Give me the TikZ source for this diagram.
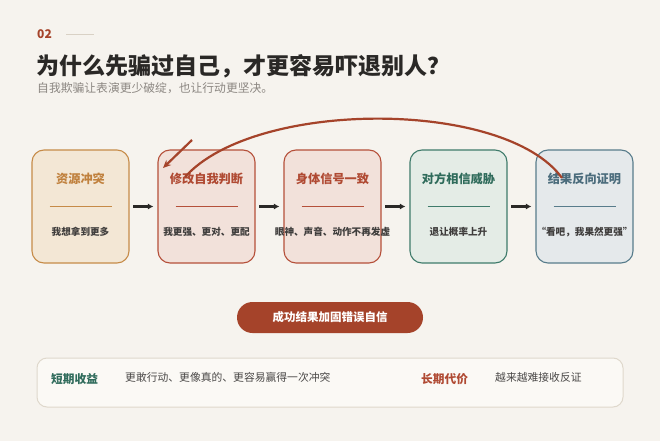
\documentclass[tikz,border=0pt]{standalone}
\usepackage{fontspec}
\setmainfont{Noto Sans CJK SC}
\usepackage{xcolor}
\usepackage{tikz}
\usetikzlibrary{arrows.meta}
\definecolor{paper}{HTML}{F6F3EE}
\definecolor{ink}{HTML}{2A2826}
\definecolor{mute}{HTML}{8C8782}
\definecolor{rust}{HTML}{A5432A}
\definecolor{rule}{HTML}{D9D1C5}
\definecolor{sAfill}{HTML}{F3E7D5}
\definecolor{sAline}{HTML}{C68B48}
\definecolor{sAtext}{HTML}{C0813E}
\definecolor{sBfill}{HTML}{F2E1DA}
\definecolor{sBline}{HTML}{B5503A}
\definecolor{sBtext}{HTML}{B04A33}
\definecolor{sCfill}{HTML}{E4ECE6}
\definecolor{sCline}{HTML}{3F7B6B}
\definecolor{sCtext}{HTML}{2F6B5B}
\definecolor{sDfill}{HTML}{E5E9EB}
\definecolor{sDline}{HTML}{587C8B}
\definecolor{sDtext}{HTML}{4B6C7C}
\definecolor{panelfill}{HTML}{FBF9F5}
\definecolor{panelline}{HTML}{DFD8CC}
\tikzstyle{every node}=[inner sep=0pt]
\tikzstyle{stage}=[line width=1.1pt, rounded corners=12pt, minimum width=97pt, minimum height=113pt]
\tikzstyle{stagehead}=[font=\fontsize{12.2}{14}\selectfont\bfseries]
\tikzstyle{stagesub}=[font=\fontsize{9.6}{12}\selectfont\bfseries, text=ink!90]
\tikzstyle{flow}=[-{Latex[length=5.5pt,width=6pt]}, line width=2.2pt, ink, shorten <=3.5pt, shorten >=4pt]
\tikzstyle{loopline}=[rust, line width=2.2pt]
\tikzstyle{note}=[anchor=west, font=\fontsize{10.8}{13}\selectfont, text=ink!85]
\tikzstyle{notehead}=[anchor=west, font=\fontsize{11.7}{14}\selectfont\bfseries]

\begin{document}
\begin{tikzpicture}[x=1pt,y=-1pt]
\fill[paper] (0,0) rectangle (660,441);
\useasboundingbox (0,0) rectangle (660,441);

% heading
\node[anchor=west, text=rust, font=\fontsize{12}{14}\selectfont\bfseries] (num) at (37,34.5) {02};
\draw[rule, line width=0.8pt] ([xshift=14pt]num.east) -- ++(28,0);
\node[anchor=west, text=ink, font=\fontsize{23}{26}\selectfont\bfseries] (title) at (36,66) {为什么先骗过自己，才更容易吓退别人？};
\node[anchor=west, text=mute, font=\fontsize{11.8}{14}\selectfont] (subtitle) at (37,88) {自我欺骗让表演更少破绽，也让行动更坚决。};

% stages
\foreach \i/\x/\fc/\lc/\tc/\head/\sub in {
  1/80.5/sAfill/sAline/sAtext/资源冲突/我想拿到更多,
  2/206.5/sBfill/sBline/sBtext/修改自我判断/我更强、更对、更配,
  3/332.5/sBfill/sBline/sBtext/身体信号一致/眼神、声音、动作不再发虚,
  4/458.5/sCfill/sCline/sCtext/对方相信威胁/退让概率上升,
  5/584.5/sDfill/sDline/sDtext/结果反向证明/“看吧，我果然更强”} {
  \node[stage, draw=\lc, fill=\fc] (box\i) at (\x,206.5) {};
  \node[stagehead, text=\tc] (head\i) at ([yshift=27.5pt]box\i.center) {\head};
  \draw[\lc, line width=1.3pt] ([xshift=-31pt]box\i.center) -- ([xshift=31pt]box\i.center);
  \node[stagesub] (sub\i) at ([yshift=-25.5pt]box\i.center) {\sub};
}

\foreach \i/\j in {1/2,2/3,3/4,4/5}
  \draw[flow] (box\i.east) -- (box\j.west);

% feedback loop
\coordinate (loopfrom) at (562,178);
\coordinate (loopto) at (185,177);
\draw[loopline] (loopfrom) .. controls (505,99) and (255,99) .. (loopto);
\coordinate (tipfrom) at (192,140);
\coordinate (tipto) at (163,168);
\draw[loopline, -{Stealth[length=8pt,width=7pt]}] (tipfrom) -- (tipto);

% result
\node[fill=rust, rounded corners=15.5pt, minimum width=186pt, minimum height=31pt,
      text=white, font=\fontsize{11.5}{14}\selectfont\bfseries] (result) at (330,317.5) {成功结果加固错误自信};

% summary
\node[draw=panelline, fill=panelfill, line width=1pt, rounded corners=10pt,
      minimum width=586pt, minimum height=49pt] (panel) at (330,382.5) {};
\node[notehead, text=sCtext] (gainhead) at (51,379) {短期收益};
\node[note] (gain) at (125,377.5) {更敢行动、更像真的、更容易赢得一次冲突};
\node[notehead, text=sBtext] (costhead) at (421,379) {长期代价};
\node[note] (cost) at (495,377.5) {越来越难接收反证};

\end{tikzpicture}
\end{document}
